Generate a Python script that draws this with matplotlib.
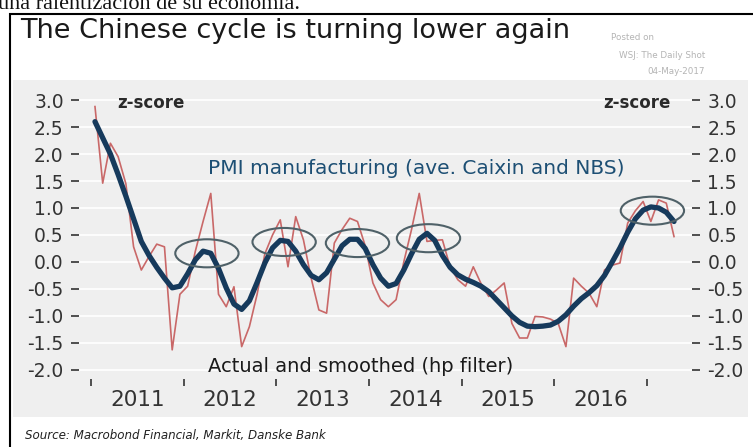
import numpy as np
import matplotlib.pyplot as plt
from matplotlib.patches import Ellipse, Rectangle
from matplotlib.ticker import FormatStrFormatter

plt.rcParams['axes.unicode_minus'] = False
plt.rcParams['font.family'] = 'DejaVu Sans'

# monthly z-scores, Jan 2011 - Apr 2017
years = ['2011', '2012', '2013', '2014', '2015', '2016']
actual = [2.88, 1.46, 2.2, 1.95, 1.45, 0.28, -0.15, 0.1, 0.33, 0.28, -1.63, -0.6,
          -0.45, 0.2, 0.75, 1.27, -0.6, -0.83, -0.46, -1.57, -1.2, -0.6, 0.15, 0.5,
          0.78, -0.09, 0.84, 0.41, -0.3, -0.89, -0.95, 0.35, 0.6, 0.81, 0.75, 0.3,
          -0.39, -0.7, -0.83, -0.7, 0.0, 0.6, 1.27, 0.38, 0.4, 0.41, -0.09, -0.33,
          -0.45, -0.09, -0.4, -0.64, -0.52, -0.39, -1.14, -1.41, -1.41, -1.01, -1.02, -1.06,
          -1.14, -1.57, -0.3, -0.45, -0.58, -0.83, -0.15, -0.06, -0.02, 0.72, 0.95, 1.12,
          0.75, 1.15, 1.09, 0.47]
smoothed = [2.6, 2.3, 2.0, 1.62, 1.22, 0.8, 0.38, 0.12, -0.1, -0.3, -0.48, -0.45,
            -0.22, 0.04, 0.2, 0.16, -0.12, -0.48, -0.78, -0.88, -0.72, -0.38, -0.02, 0.26,
            0.4, 0.38, 0.2, -0.05, -0.25, -0.33, -0.2, 0.05, 0.3, 0.42, 0.42, 0.25,
            -0.05, -0.3, -0.45, -0.4, -0.15, 0.15, 0.42, 0.53, 0.4, 0.12, -0.1, -0.24,
            -0.32, -0.38, -0.45, -0.55, -0.7, -0.85, -1.0, -1.12, -1.19, -1.2, -1.19, -1.17,
            -1.1, -0.98, -0.82, -0.68, -0.57, -0.44, -0.25, 0.0, 0.26, 0.55, 0.8, 0.96,
            1.02, 1.0, 0.92, 0.75]
# circled peaks (month index, z-score)
peak_months = [14.5, 24.5, 34.0, 43.2, 72.2]
peak_values = [0.16, 0.37, 0.35, 0.44, 0.95]

W, H = 753, 447
fig = plt.figure(figsize=(W / 100, H / 100), dpi=100)


def fx(px):
    return px / W


def fy(py):
    return 1 - py / H


# white box with black frame, grey chart panel
fig.patches.append(Rectangle((fx(10), fy(470)), (770 - 10) / W, (470 - 14) / H,
                             transform=fig.transFigure, facecolor='white',
                             edgecolor='black', lw=1.5, zorder=-2))
fig.patches.append(Rectangle((fx(13), fy(417)), (748 - 13) / W, (417 - 80) / H,
                             transform=fig.transFigure, facecolor='#efefef',
                             edgecolor='none', zorder=-1))

ax = fig.add_axes([fx(79), fy(379), (692 - 79) / W, (379 - 92) / H])
ax.patch.set_visible(False)

months = np.arange(len(actual))
ax.plot(months, actual, color='#c96868', lw=1.2, zorder=3)
ax.plot(months, smoothed, color='#163a5c', lw=3.8, solid_capstyle='round',
        solid_joinstyle='round', zorder=4)
for m, v in zip(peak_months, peak_values):
    ax.add_patch(Ellipse((m, v), 8.2, 0.52, fill=False, edgecolor='#4f6168',
                         lw=1.5, zorder=5))

ax.set_xlim(-2.07, 77.33)
ax.set_ylim(-2.17, 3.15)
for s in ax.spines.values():
    s.set_visible(False)

ax.set_yticks(np.arange(-2, 3.01, 0.5))
ax.yaxis.set_major_formatter(FormatStrFormatter('%.1f'))
ax.tick_params(axis='y', direction='out', length=6, width=1.2, colors='#333333',
               labelsize=13.5, left=True, right=True, labelleft=True,
               labelright=True, pad=5)
ax.grid(axis='y', color='white', lw=1.2, zorder=0)

ax.set_xticks(np.arange(-0.5, 72, 12))
ax.set_xticks(np.arange(5.5, 66, 12), minor=True)
ax.set_xticklabels(years, minor=True)
ax.tick_params(axis='x', which='major', direction='out', length=5, width=1.2,
               color='#333333', labelbottom=False)
ax.tick_params(axis='x', which='minor', length=0, pad=8, labelsize=15.5,
               labelcolor='#333333')

ax.text(0.063, 0.96, 'z-score', transform=ax.transAxes, fontsize=12,
        fontweight='bold', color='#2a2a2a', va='center')
ax.text(0.965, 0.96, 'z-score', transform=ax.transAxes, fontsize=12,
        fontweight='bold', color='#2a2a2a', va='center', ha='right')
fig.text(fx(208), fy(168), 'PMI manufacturing (ave. Caixin and NBS)', fontsize=14.5,
         color='#1d4f74', va='center')
fig.text(fx(208), fy(367), 'Actual and smoothed (hp filter)', fontsize=14,
         color='#1a1a1a', va='center')

# header and footer
fig.text(fx(-2), fy(9), 'una ralentización de su economía.', fontsize=16,
         family='Liberation Serif', color='#111111', va='baseline')
fig.text(fx(20), fy(31), 'The Chinese cycle is turning lower again', fontsize=19.5,
         color='#1a1a1a', va='center')
fig.text(fx(611), fy(38), 'Posted on', fontsize=6.3, color='#b4b4b4', va='center')
fig.text(fx(705), fy(55), 'WSJ: The Daily Shot', fontsize=6.3, color='#b4b4b4',
         va='center', ha='right')
fig.text(fx(705), fy(71), '04-May-2017', fontsize=6.3, color='#b4b4b4',
         va='center', ha='right')
fig.text(fx(25), fy(436), 'Source: Macrobond Financial, Markit, Danske Bank',
         fontsize=8.6, style='italic', color='#222222', va='center')

fig.savefig('out.png', dpi=100)
